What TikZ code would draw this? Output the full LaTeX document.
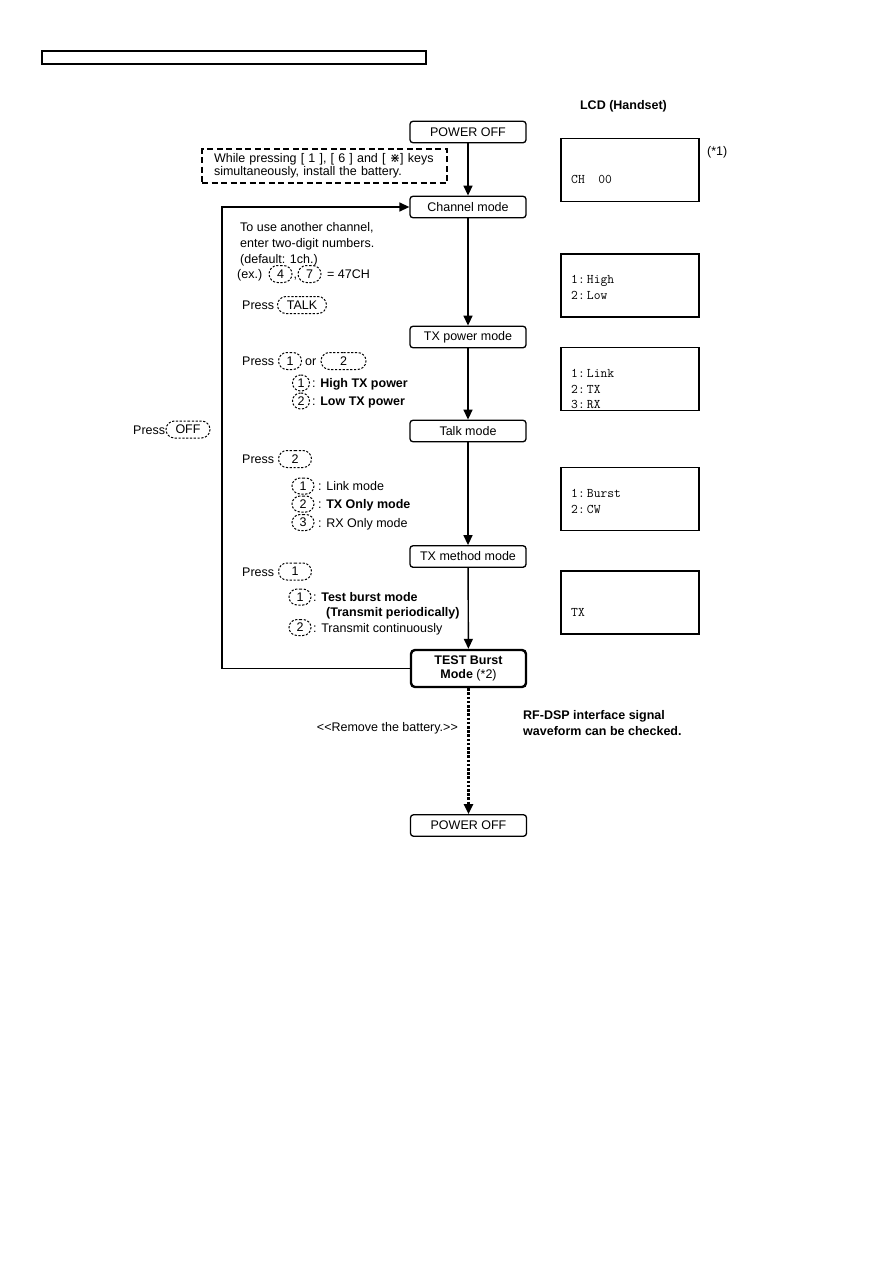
\documentclass[tikz,border=0pt]{standalone}
\usepackage{fontspec}
\setmainfont{Liberation Sans}
\setmonofont{Latin Modern Mono}
\newfontfamily\symfont{DejaVu Sans}
\usetikzlibrary{arrows.meta,shapes.misc}
\begin{document}
\begin{tikzpicture}[x=1pt,y=-1pt,
  font=\fontsize{12.5}{15}\selectfont,
  box/.style={draw, rounded corners=3pt, line width=1.3pt, minimum width=116pt, minimum height=21.5pt, inner sep=0pt},
  bigbox/.style={draw, rounded corners=4pt, line width=2.4pt, minimum width=115pt, minimum height=37pt, inner sep=0pt, align=center, font=\fontsize{12.5}{14}\selectfont},
  lcd/.style={draw, line width=1.6pt, minimum width=138pt, minimum height=63pt, inner sep=0pt},
  keyb/.style={draw, dashed, dash pattern=on 2.2pt off 1.6pt, rounded rectangle, line width=1pt, inner xsep=1pt, inner ysep=0pt, minimum height=17pt},
  txt/.style={inner sep=0pt, anchor=base west},
  mono/.style={inner sep=0pt, anchor=base west, font=\ttfamily\fontsize{13.2}{15}\selectfont},
  arr/.style={-{Triangle[length=10pt,width=9pt]}, line width=1.4pt},
  darr/.style={-{Triangle[length=10pt,width=9pt]}, line width=2.2pt, dash pattern=on 2.6pt off 1.6pt}
]
\useasboundingbox[fill=white] (0,0) rectangle (893,1263);

% header bar
\draw[line width=1.6pt] (42,51) rectangle (426,64);

% main column
\node[box] (poff1) at (468,132) {POWER OFF};
\node[box] (chan) at (468,207) {Channel mode};
\node[box] (txp) at (468,337) {TX power mode};
\node[box] (talk) at (468,431) {Talk mode};
\node[box] (txm) at (468,556.5) {TX method mode};
\node[bigbox] (test) at (468.5,668.5) {\textbf{TEST Burst}\\\textbf{Mode} (*2)};
\node[box] (poff2) at (468.5,825.5) {POWER OFF};

\draw[arr] (poff1) -- (chan);
\draw[arr] (chan) -- (txp);
\draw[arr] (txp) -- (talk);
\draw[arr] (talk) -- (txm);
\draw[arr] (txm) -- (test);
\draw[darr] (test) -- (poff2);
\coordinate (fb) at (222,430);
\draw[arr] (test.west) -| (fb) |- (chan.west);

% dashed note
\node[draw, dashed, dash pattern=on 6pt off 3.5pt, line width=1.3pt, align=left, text width=221pt, inner xsep=12pt, minimum height=34pt, font=\fontsize{12.5}{13.5}\selectfont] (note) at (324.5,166)
  {While pressing [ 1 ], [ 6 ] and [ {\symfont ⋇}] keys\\simultaneously, install the battery.};

% channel mode instructions
\node[txt] (c1) at (240,231.5) {To use another channel,};
\node[txt] (c2) at (240,247.5) {enter two-digit numbers.};
\node[txt] (c3) at (240,263) {(default: 1ch.)};
\node[txt] (c4) at (237,278.5) {(ex.)};
\node[keyb, minimum width=25pt] (k4) at (280.5,274) {4};
\node[txt] (c5) at (293.5,278.5) {,};
\node[keyb, minimum width=25pt] (k7) at (309.5,274) {7};
\node[txt] (c6) at (327,278.5) {= 47CH};

\node[txt] (p1) at (242,309.5) {Press};
\node[keyb, minimum width=51pt] (ktalk) at (302,305) {TALK};

% tx power
\node[txt] (p2) at (242,365.5) {Press};
\node[keyb, minimum width=25pt] (k1a) at (290,361) {1};
\node[txt] (or) at (305,365.5) {or};
\node[keyb, minimum width=47pt] (k2a) at (343.5,361) {2};
\node[keyb, minimum width=19pt, minimum height=16pt] (k1b) at (301,383) {1};
\node[txt] (h1) at (312,387.5) {: \textbf{High TX power}};
\node[keyb, minimum width=19pt, minimum height=16pt] (k2b) at (301,401) {2};
\node[txt] (h2) at (312,405.5) {: \textbf{Low TX power}};

% off
\node[txt] (poff) at (133,434) {Press};
\node[keyb, minimum width=46pt] (koff) at (188,429.5) {OFF};

% talk
\node[txt] (p3) at (242,463.5) {Press};
\node[keyb, minimum width=35pt] (k2c) at (295,459) {2};
\node[keyb, minimum width=24pt, minimum height=16pt] (k1d) at (303,486) {1};
\node[txt] (t1) at (318,490.5) {: Link mode};
\node[keyb, minimum width=24pt, minimum height=16pt] (k2d) at (303,504) {2};
\node[txt] (t2) at (318,508.5) {: \textbf{TX Only mode}};
\node[keyb, minimum width=24pt, minimum height=16pt] (k3d) at (303,522.5) {3};
\node[txt] (t3) at (318,527) {: RX Only mode};

% tx method
\node[txt] (p4) at (242,576) {Press};
\node[keyb, minimum width=35pt] (k1e) at (295,571.5) {1};
\node[keyb, minimum width=24pt, minimum height=16pt] (k1f) at (300,597) {1};
\node[txt] (m1) at (313,601.5) {: \textbf{Test burst mode}};
\node[txt] (m2) at (326,616) {\textbf{(Transmit periodically)}};
\node[keyb, minimum width=24pt, minimum height=16pt] (k2f) at (300,627.5) {2};
\node[txt] (m3) at (313,632) {: Transmit continuously};

% bottom texts
\node[inner sep=0pt, anchor=base east] (rem) at (458,731) {<{}<Remove the battery.>{}>};
\node[txt] (rf1) at (523,719.5) {\textbf{RF-DSP interface signal}};
\node[txt] (rf2) at (523,735) {\textbf{waveform can be checked.}};

% LCD column
\node[inner sep=0pt, anchor=base] (lcdt) at (623.5,109.5) {\textbf{LCD (Handset)}};
\node[lcd] (l1) at (630,170) {};
\node[txt] (s1) at (707,155.5) {(*1)};
\node[mono] (l1a) at (571,183) {CH\ \ 00};

\node[lcd] (l2) at (630,285.5) {};
\node[mono] (l2a) at (571,283) {1:\,High};
\node[mono] (l2b) at (571,299) {2:\,Low};

\node[lcd] (l3) at (630,379) {};
\node[mono] (l3a) at (571,377) {1:\,Link};
\node[mono] (l3b) at (571,393) {2:\,TX};
\node[mono] (l3c) at (571,408) {3:\,RX};

\node[lcd] (l4) at (630,499) {};
\node[mono] (l4a) at (571,497) {1:\,Burst};
\node[mono] (l4b) at (571,513) {2:\,CW};

\node[lcd] (l5) at (630,602.5) {};
\node[mono] (l5a) at (571,616) {TX};
\end{tikzpicture}
\end{document}
